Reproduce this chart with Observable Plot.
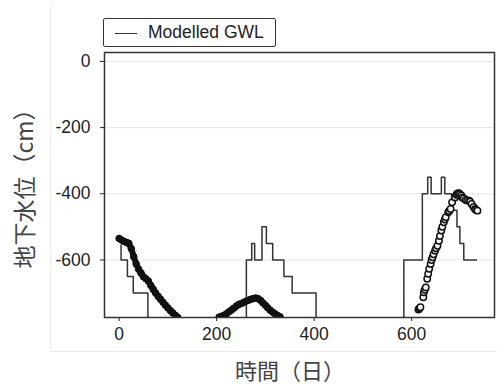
<!DOCTYPE html>
<html><head><meta charset="utf-8">
<script src="https://cdn.jsdelivr.net/npm/d3@7"></script>
<script src="https://cdn.jsdelivr.net/npm/@observablehq/plot@0.6"></script>
<style>
body{margin:0;background:#fff;}
#wrap{position:relative;width:497px;height:385px;overflow:hidden;font-family:"Liberation Sans",Arial,sans-serif;background:#fff;}
#outer{position:absolute;left:50px;top:5px;width:447px;height:347px;border-left:1px solid #ececec;border-bottom:1px solid #ececec;box-sizing:border-box;}
#chart{position:absolute;left:0;top:0;}
#legend{position:absolute;left:103px;top:18px;width:173px;height:29px;box-sizing:border-box;border:1.5px solid #333;border-radius:2px;background:#fff;}
#legend .sw{position:absolute;left:11px;top:14px;width:22px;height:0;border-top:1.5px solid #333;}
#legend .tx{position:absolute;left:44px;top:3px;font-size:17.5px;color:#222;line-height:20px;white-space:nowrap;}
.ylab{position:absolute;left:23px;top:183px;transform:translate(-50%,-50%) rotate(-90deg);font-family:"Noto Sans CJK JP",sans-serif;font-size:23px;line-height:1;color:#444;white-space:nowrap;}
.xlab{position:absolute;left:290px;top:369px;transform:translate(-50%,-50%);font-family:"Noto Sans CJK JP",sans-serif;font-size:22px;line-height:1;color:#444;white-space:nowrap;}
</style></head><body>
<div id="wrap">
  <div id="outer"></div>
  <div id="chart"></div>
  <div id="legend"><div class="sw"></div><div class="tx">Modelled GWL</div></div>
  <div class="ylab">地下水位（cm）</div>
  <div class="xlab">時間（日）</div>
</div>
<script>
// Modelled GWL (step line): day at which each level starts, level in cm
const modelDays = [4, 4, 17, 29, 59, 261, 272, 278, 293, 302, 315, 338, 355, 404, 584, 622, 633, 640, 661, 668, 682, 693, 699, 707, 733];
const modelGWL  = [-555, -600, -650, -700, -800, -600, -550, -600, -500, -550, -600, -650, -700, -800, -600, -400, -350, -400, -350, -400, -450, -500, -550, -600, -600];

// Observed GWL, first period
const obsDaysA = [0, 5, 10, 15, 20, 25, 30, 35, 40, 45, 50, 55, 60, 65, 70, 75, 80, 85, 90, 95, 100, 105, 110, 115, 120];
const obsGWLA  = [-535, -540, -544, -547, -550, -566, -590, -612, -628, -640, -651, -657, -664, -677, -689, -700, -710, -719, -728, -737, -745, -753, -760, -767, -773];

// Observed GWL, second period
const obsDaysB = [205, 210, 215, 220, 225, 230, 235, 240, 245, 250, 255, 260, 265, 270, 275, 280, 285, 290, 295, 300, 305, 310, 315, 320, 325, 330];
const obsGWLB  = [-773, -770, -768, -763, -757, -752, -746, -740, -735, -732, -729, -725, -722, -719, -717, -715, -717, -722, -730, -737, -745, -752, -758, -763, -768, -772];

// Observed GWL, third period
const obsDaysC = [614, 616, 618, 624, 625, 627, 629, 632, 634, 636, 639, 641, 643, 645, 648, 650, 653, 656, 658, 661, 663, 666, 668, 670, 675, 677, 680, 683, 689, 692, 694, 697, 699, 702, 704, 707, 711, 714, 718, 720, 723, 727, 730, 732, 735];
const obsGWLC  = [-750, -747, -743, -713, -698, -690, -683, -657, -642, -627, -612, -600, -592, -583, -572, -565, -557, -542, -528, -511, -500, -486, -478, -471, -456, -452, -446, -426, -411, -403, -399, -398, -401, -405, -411, -414, -419, -420, -421, -424, -431, -440, -446, -449, -451];

const xTicks = [0, 200, 400, 600];
const yTicks = [0, -200, -400, -600];

const zip = (xs, ys) => xs.map((x, i) => ({day: x, gwl: ys[i]}));
const model = zip(modelDays, modelGWL);
const obsA = zip(obsDaysA, obsGWLA);
const obsB = zip(obsDaysB, obsGWLB);
const obsC = zip(obsDaysC, obsGWLC);

const chart = Plot.plot({
  width: 497,
  height: 385,
  marginLeft: 104,
  marginRight: 3,
  marginTop: 52,
  marginBottom: 68,
  style: {fontFamily: "'Liberation Sans', Arial, sans-serif", fontSize: "17.5px", color: "#222", background: "transparent", overflow: "visible"},
  x: {domain: [-30, 770], ticks: xTicks, tickSize: 4, tickPadding: 6, tickFormat: d => String(d), label: null},
  y: {domain: [-774, 27], ticks: yTicks, tickSize: 4, tickPadding: 10, tickFormat: d => String(d), label: null},
  marks: [
    Plot.gridY(yTicks, {stroke: "#e6e6e6", strokeOpacity: 1, strokeWidth: 1}),
    Plot.line(model, {x: "day", y: "gwl", curve: "step-after", stroke: "#333", strokeWidth: 1.5, clip: true}),
    Plot.line(obsA, {x: "day", y: "gwl", stroke: "#111", strokeWidth: 6, strokeLinecap: "round", strokeLinejoin: "round", clip: true}),
    Plot.line(obsB, {x: "day", y: "gwl", stroke: "#111", strokeWidth: 6, strokeLinecap: "round", strokeLinejoin: "round", clip: true}),
    Plot.dot(obsA, {x: "day", y: "gwl", r: 3.3, fill: "#111", stroke: "#111", strokeWidth: 1, clip: true}),
    Plot.dot(obsB, {x: "day", y: "gwl", r: 3.3, fill: "#111", stroke: "#111", strokeWidth: 1, clip: true}),
    Plot.dot(obsC, {x: "day", y: "gwl", r: 3.2, fill: "#fff", stroke: "#111", strokeWidth: 1.5, clip: true}),
    Plot.frame({stroke: "#333", strokeWidth: 1.5})
  ]
});
document.getElementById("chart").appendChild(chart);
</script>
</body></html>
